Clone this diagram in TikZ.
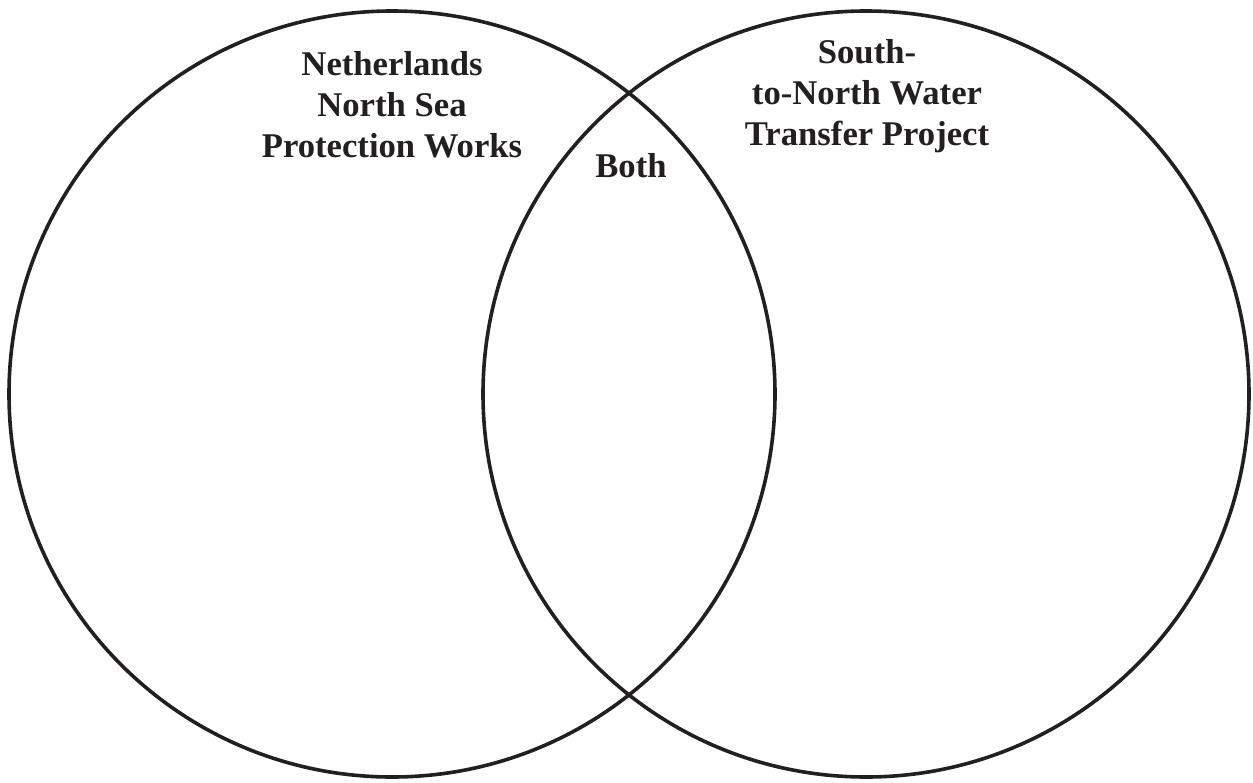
\documentclass[tikz,border=0pt]{standalone}
\usepackage{fontspec}
\setmainfont{Liberation Serif}
\definecolor{ink}{RGB}{35,31,32}

\begin{document}
\begin{tikzpicture}[x=0.75pt,y=-0.75pt]
	\tikzstyle{setcircle}=[circle,draw=ink,line width=2.7pt,minimum size=574.5pt,inner sep=0pt]
	\tikzstyle{setlabel}=[anchor=north,align=center,inner sep=0pt,text=ink,font=\fontsize{26}{30.75}\selectfont\bfseries]
	\useasboundingbox (0,0) rectangle (1253,782);
	\node[setcircle](nl) at (392,394){};
	\node[setcircle](sn) at (866,394){};
	\node[setlabel](nltext) at (392,51) {Netherlands\\North Sea\\Protection Works};
	\node[setlabel](sntext) at (867,39) {South-\\to-North Water\\Transfer Project};
	\node[setlabel](both) at (631,153) {Both};
\end{tikzpicture}
\end{document}
